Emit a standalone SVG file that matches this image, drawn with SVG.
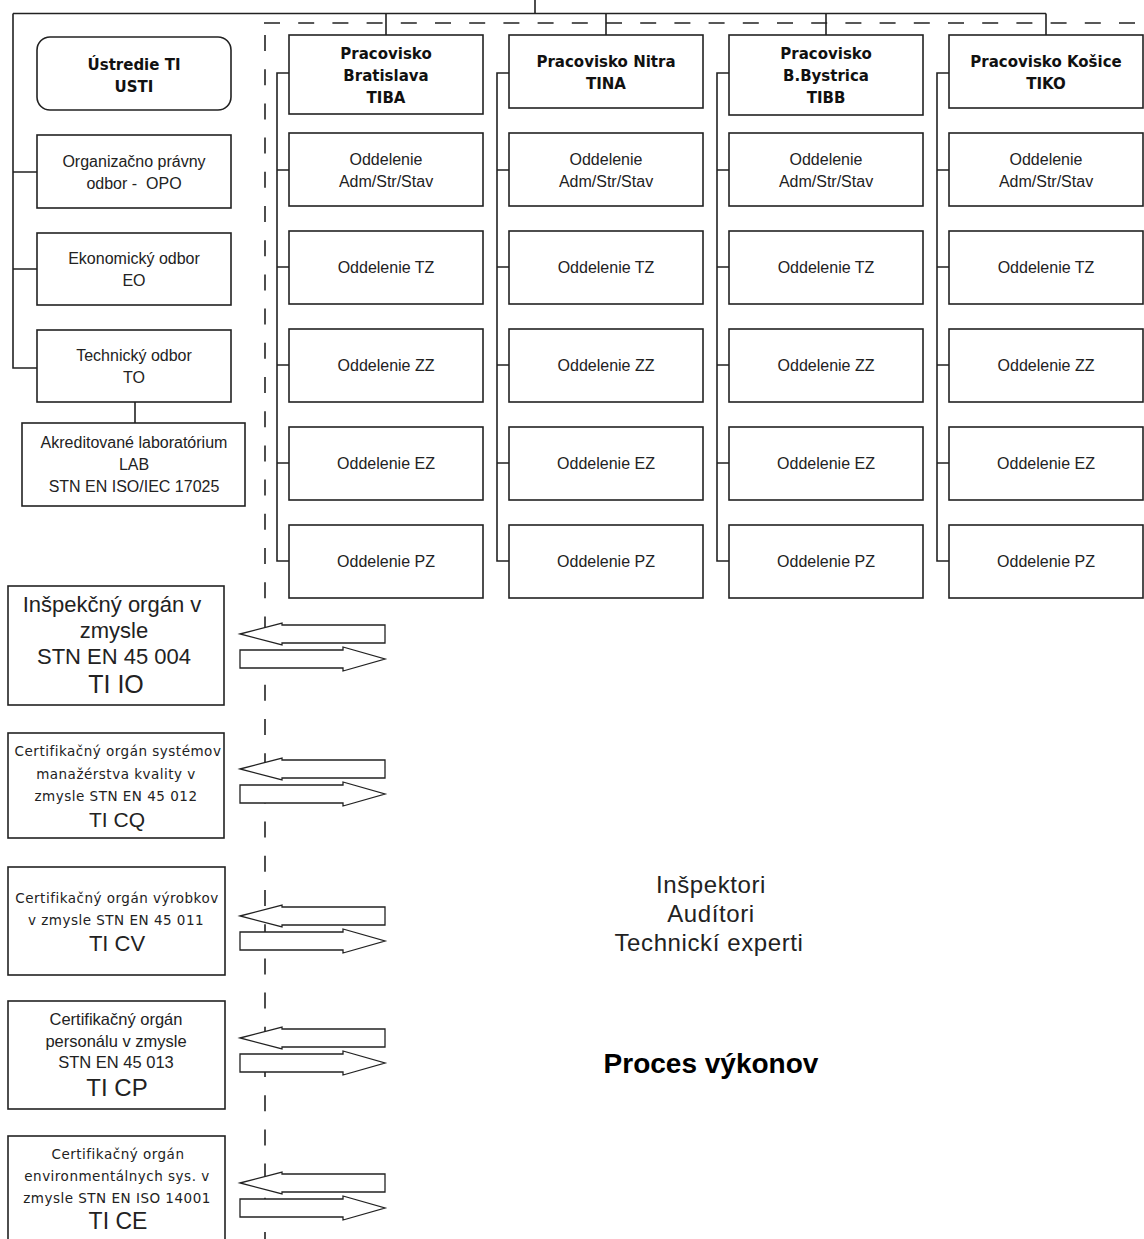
<svg xmlns="http://www.w3.org/2000/svg" width="1144" height="1239" viewBox="0 0 1144 1239">
<style>
.bx{fill:#fff;stroke:#222;stroke-width:1.6}
.ln{fill:none;stroke:#222;stroke-width:1.6}
.dash{fill:none;stroke:#222;stroke-width:1.6;stroke-dasharray:16 18.2}
.ar{fill:#fff;stroke:#222;stroke-width:1.3;stroke-linejoin:miter}
.h{font-family:"DejaVu Sans","Liberation Sans",sans-serif;font-weight:bold;font-size:15px;fill:#111;text-anchor:middle}
.t{font-family:"Liberation Sans",Arial,sans-serif;font-size:16px;fill:#222;text-anchor:middle}
.s{font-family:"DejaVu Sans","Liberation Sans",sans-serif;font-size:13.5px;letter-spacing:0.5px;fill:#222;text-anchor:middle}
.mid{font-family:"Liberation Sans",Arial,sans-serif;font-size:22px;fill:#222;text-anchor:middle}
.big{font-family:"Liberation Sans",Arial,sans-serif;font-size:24px;fill:#222;text-anchor:middle}
.staff{font-family:"Liberation Sans",Arial,sans-serif;font-size:24px;letter-spacing:0.6px;fill:#222;text-anchor:middle}
.pv{font-family:"Liberation Sans",Arial,sans-serif;font-weight:bold;font-size:28px;fill:#000;text-anchor:middle}
</style>
<defs>
<polygon id="la" class="ar" points="240,0 282,-11 282,-9 385,-9 385,9 282,9 282,11"/>
<polygon id="ra" class="ar" points="240,-9 343,-9 343,-12 385,0 343,12 343,9 240,9"/>
</defs>

<g id="connectors">
<path class="dash" d="M264,23 H1144"/>
<path class="dash" d="M265,35 V1239"/>
<path class="ln" d="M535,0 V13.5 M13,13.5 H1046 M386,13.5 V35 M606,13.5 V35 M826,13.5 V35 M1046,13.5 V35"/>
<path class="ln" d="M13,13.5 V368 H37 M13,172 H37 M13,269 H37 M135,402 V423"/>
<path class="ln" d="M289,73 H277 V561 H289 M277,170 H289 M277,267 H289 M277,365 H289 M277,463 H289"/>
<path class="ln" d="M509,73 H497 V561 H509 M497,170 H509 M497,267 H509 M497,365 H509 M497,463 H509"/>
<path class="ln" d="M729,73 H717 V561 H729 M717,170 H729 M717,267 H729 M717,365 H729 M717,463 H729"/>
<path class="ln" d="M949,73 H937 V561 H949 M937,170 H949 M937,267 H949 M937,365 H949 M937,463 H949"/>
<use href="#la" y="634"/><use href="#ra" y="659"/>
<use href="#la" y="769"/><use href="#ra" y="794"/>
<use href="#la" y="916"/><use href="#ra" y="941"/>
<use href="#la" y="1038"/><use href="#ra" y="1063"/>
<use href="#la" y="1183"/><use href="#ra" y="1208"/>
</g>

<g id="usti"><rect class="bx" x="37" y="37" width="194" height="73" rx="13"/><text class="h" x="134" y="70">Ústredie TI</text><text class="h" x="134" y="92">USTI</text></g>
<g id="opo"><rect class="bx" x="37" y="135" width="194" height="73"/><text class="t" x="134" y="167">Organizačno právny</text><text class="t" x="134" y="189" xml:space="preserve">odbor -  OPO</text></g>
<g id="eo"><rect class="bx" x="37" y="233" width="194" height="72"/><text class="t" x="134" y="264">Ekonomický odbor</text><text class="t" x="134" y="286">EO</text></g>
<g id="to"><rect class="bx" x="37" y="330" width="194" height="72"/><text class="t" x="134" y="361">Technický odbor</text><text class="t" x="134" y="383">TO</text></g>
<g id="lab"><rect class="bx" x="22" y="423" width="223" height="83"/><text class="t" x="134" y="448">Akreditované laboratórium</text><text class="t" x="134" y="470">LAB</text><text class="t" x="134" y="492">STN EN ISO/IEC 17025</text></g>

<g id="tiba"><rect class="bx" x="289" y="35" width="194" height="79"/><text class="h" x="386" y="59">Pracovisko</text><text class="h" x="386" y="81">Bratislava</text><text class="h" x="386" y="103">TIBA</text></g>
<g id="tina"><rect class="bx" x="509" y="35" width="194" height="73"/><text class="h" x="606" y="67">Pracovisko Nitra</text><text class="h" x="606" y="89">TINA</text></g>
<g id="tibb"><rect class="bx" x="729" y="35" width="194" height="80"/><text class="h" x="826" y="59">Pracovisko</text><text class="h" x="826" y="81">B.Bystrica</text><text class="h" x="826" y="103">TIBB</text></g>
<g id="tiko"><rect class="bx" x="949" y="35" width="194" height="73"/><text class="h" x="1046" y="67">Pracovisko Košice</text><text class="h" x="1046" y="89">TIKO</text></g>

<g id="ba-adm"><rect class="bx" x="289" y="133" width="194" height="73"/><text class="t" x="386" y="165">Oddelenie</text><text class="t" x="386" y="187">Adm/Str/Stav</text></g>
<g id="ba-tz"><rect class="bx" x="289" y="231" width="194" height="73"/><text class="t" x="386" y="273">Oddelenie TZ</text></g>
<g id="ba-zz"><rect class="bx" x="289" y="329" width="194" height="73"/><text class="t" x="386" y="371">Oddelenie ZZ</text></g>
<g id="ba-ez"><rect class="bx" x="289" y="427" width="194" height="73"/><text class="t" x="386" y="469">Oddelenie EZ</text></g>
<g id="ba-pz"><rect class="bx" x="289" y="525" width="194" height="73"/><text class="t" x="386" y="567">Oddelenie PZ</text></g>

<g id="nr-adm"><rect class="bx" x="509" y="133" width="194" height="73"/><text class="t" x="606" y="165">Oddelenie</text><text class="t" x="606" y="187">Adm/Str/Stav</text></g>
<g id="nr-tz"><rect class="bx" x="509" y="231" width="194" height="73"/><text class="t" x="606" y="273">Oddelenie TZ</text></g>
<g id="nr-zz"><rect class="bx" x="509" y="329" width="194" height="73"/><text class="t" x="606" y="371">Oddelenie ZZ</text></g>
<g id="nr-ez"><rect class="bx" x="509" y="427" width="194" height="73"/><text class="t" x="606" y="469">Oddelenie EZ</text></g>
<g id="nr-pz"><rect class="bx" x="509" y="525" width="194" height="73"/><text class="t" x="606" y="567">Oddelenie PZ</text></g>

<g id="bb-adm"><rect class="bx" x="729" y="133" width="194" height="73"/><text class="t" x="826" y="165">Oddelenie</text><text class="t" x="826" y="187">Adm/Str/Stav</text></g>
<g id="bb-tz"><rect class="bx" x="729" y="231" width="194" height="73"/><text class="t" x="826" y="273">Oddelenie TZ</text></g>
<g id="bb-zz"><rect class="bx" x="729" y="329" width="194" height="73"/><text class="t" x="826" y="371">Oddelenie ZZ</text></g>
<g id="bb-ez"><rect class="bx" x="729" y="427" width="194" height="73"/><text class="t" x="826" y="469">Oddelenie EZ</text></g>
<g id="bb-pz"><rect class="bx" x="729" y="525" width="194" height="73"/><text class="t" x="826" y="567">Oddelenie PZ</text></g>

<g id="ke-adm"><rect class="bx" x="949" y="133" width="194" height="73"/><text class="t" x="1046" y="165">Oddelenie</text><text class="t" x="1046" y="187">Adm/Str/Stav</text></g>
<g id="ke-tz"><rect class="bx" x="949" y="231" width="194" height="73"/><text class="t" x="1046" y="273">Oddelenie TZ</text></g>
<g id="ke-zz"><rect class="bx" x="949" y="329" width="194" height="73"/><text class="t" x="1046" y="371">Oddelenie ZZ</text></g>
<g id="ke-ez"><rect class="bx" x="949" y="427" width="194" height="73"/><text class="t" x="1046" y="469">Oddelenie EZ</text></g>
<g id="ke-pz"><rect class="bx" x="949" y="525" width="194" height="73"/><text class="t" x="1046" y="567">Oddelenie PZ</text></g>

<g id="tiio"><rect class="bx" x="8" y="586" width="216" height="119"/><text class="mid" x="112" y="612">Inšpekčný orgán v</text><text class="mid" x="114" y="638">zmysle</text><text class="mid" x="114" y="664">STN EN 45 004</text><text class="big" x="116" y="693" style="font-size:25px">TI IO</text></g>
<g id="ticq"><rect class="bx" x="8" y="733" width="216" height="105"/><text class="s" x="118" y="756">Certifikačný orgán systémov</text><text class="s" x="116" y="779">manažérstva kvality v</text><text class="s" x="116" y="801">zmysle STN EN 45 012</text><text class="big" x="117" y="827" style="font-size:21px">TI CQ</text></g>
<g id="ticv"><rect class="bx" x="8" y="867" width="217" height="108"/><text class="s" x="117" y="903">Certifikačný orgán výrobkov</text><text class="s" x="116" y="925">v zmysle STN EN 45 011</text><text class="big" x="117" y="951" style="font-size:22px">TI CV</text></g>
<g id="ticp"><rect class="bx" x="8" y="1001" width="217" height="108"/><text class="t" x="116" y="1025" style="font-size:16.5px">Certifikačný orgán</text><text class="t" x="116" y="1047" style="font-size:16.5px">personálu v zmysle</text><text class="t" x="116" y="1068" style="font-size:16.5px">STN EN 45 013</text><text class="big" x="117" y="1096">TI CP</text></g>
<g id="tice"><rect class="bx" x="8" y="1136" width="217" height="120"/><text class="s" x="118" y="1159">Certifikačný orgán</text><text class="s" x="117" y="1181">environmentálnych sys. v</text><text class="s" x="117" y="1203">zmysle STN EN ISO 14001</text><text class="big" x="118" y="1229" style="font-size:23px">TI CE</text></g>

<g id="staff"><text class="staff" x="711" y="893">Inšpektori</text><text class="staff" x="711" y="922">Audítori</text><text class="staff" x="709" y="951">Technickí experti</text></g>
<g id="proces"><text class="pv" x="711" y="1073">Proces výkonov</text></g>
</svg>
